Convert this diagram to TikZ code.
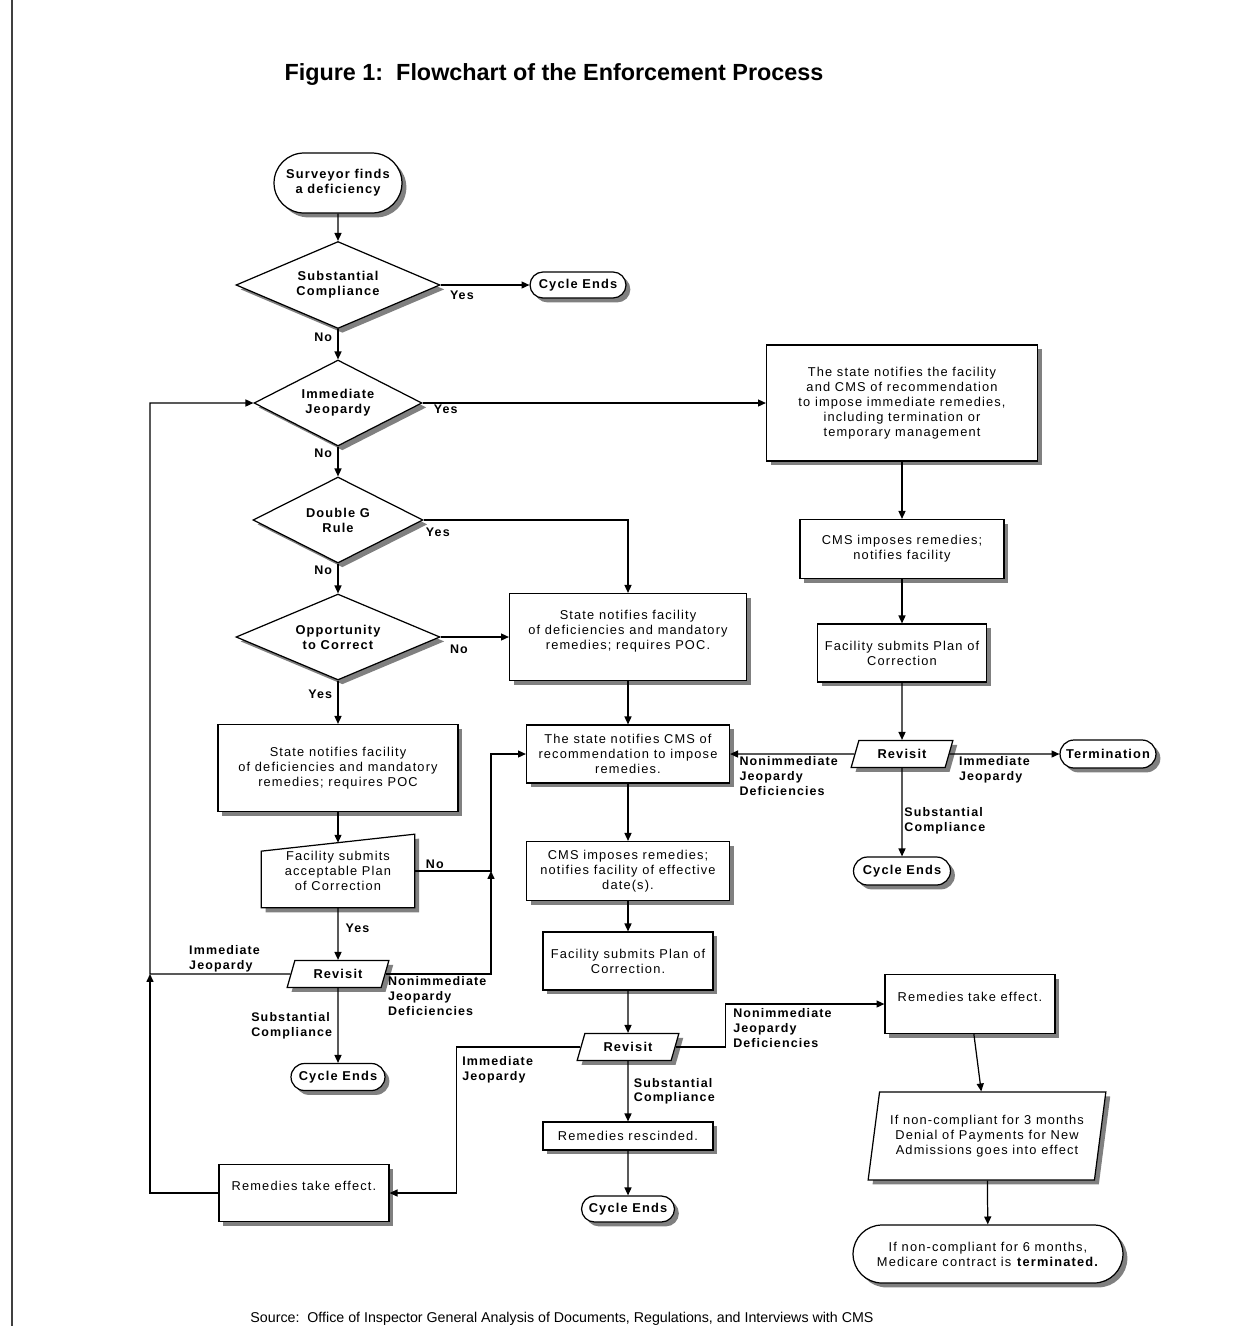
\documentclass[tikz,border=0pt]{standalone}
\usepackage{fontspec}
\setmainfont{Liberation Sans}
\newfontfamily\dfont[LetterSpace=9]{Liberation Sans}
\usetikzlibrary{shapes.geometric,shapes.misc,shadows,arrows.meta,calc,backgrounds}
\begin{document}
\begin{tikzpicture}[x=0.02cm,y=-0.02cm,
  dshadow/.style={drop shadow={shadow xshift=2.5pt,shadow yshift=-2.5pt,fill=black!50,opacity=1}},
  proc/.style={rectangle,draw,fill=white,line width=0.7pt,dshadow,align=center,inner sep=2pt,font=\dfont\fontsize{7.3}{8.5}\selectfont},
  term/.style={rounded rectangle,draw,fill=white,line width=0.7pt,dshadow,align=center,inner sep=2pt,font=\dfont\bfseries\fontsize{7.3}{8.5}\selectfont},
  dec/.style={diamond,aspect=2.3,draw,fill=white,line width=0.7pt,dshadow,align=center,inner sep=0pt,font=\dfont\bfseries\fontsize{7.3}{8.5}\selectfont},
  rev/.style={trapezium,trapezium left angle=70,trapezium right angle=110,trapezium stretches=true,draw,fill=white,line width=0.7pt,dshadow,inner sep=1pt,minimum width=2.04cm,minimum height=0.54cm,font=\dfont\bfseries\fontsize{7.3}{8.5}\selectfont},
  lbl/.style={inner sep=1pt,align=left,font=\dfont\bfseries\fontsize{7.1}{8.5}\selectfont},
  arr/.style={line width=0.7pt,-{Triangle[length=4.5pt,width=4pt]}},
  ln/.style={line width=0.7pt}]
\useasboundingbox (0,0) rectangle (1254,1326);
\draw[line width=1.6pt,black!75] (12,0) -- (12,1326);
\node[font=\bfseries\fontsize{13.3}{15}\selectfont] (title) at (554,75) {Figure 1:\ \ Flowchart of the Enforcement Process};
\node[font=\fontsize{8.1}{9}\selectfont] (source) at (562,1319) {Source:\ \ Office of Inspector General Analysis of Documents, Regulations, and Interviews with CMS};

\node[term,minimum width=2.7cm,minimum height=1.2cm] (start) at (338,183) {Surveyor finds\\a deficiency};
\node[dec,minimum width=4.08cm,minimum height=1.74cm] (sc) at (338,285) {Substantial\\Compliance};
\node[term,minimum width=2.06cm,minimum height=0.52cm] (ce1) at (578,285) {Cycle Ends};
\node[dec,minimum width=3.36cm,minimum height=1.72cm] (ij) at (338,403) {Immediate\\Jeopardy};
\node[dec,minimum width=3.4cm,minimum height=1.72cm] (dg) at (338,520) {Double G\\Rule};
\node[dec,minimum width=4.08cm,minimum height=1.72cm] (otc) at (338,637) {Opportunity\\to Correct};

\node[proc,minimum width=5.42cm,minimum height=2.32cm] (stij) at (902,403) {The state notifies the facility\\and CMS of recommendation\\to impose immediate remedies,\\including termination or\\temporary management};
\node[proc,minimum width=4.08cm,minimum height=1.18cm] (cmsr) at (902,549) {CMS imposes remedies;\\notifies facility};
\node[proc,minimum width=3.38cm,minimum height=1.16cm] (fspr) at (902,653) {Facility submits Plan of\\Correction};
\node[rev] (rvr) at (902,754) {Revisit};
\node[term,minimum width=2.06cm,minimum height=0.56cm] (term) at (1108,754) {Termination};
\node[term,minimum width=2.08cm,minimum height=0.56cm] (ce4) at (902,871) {Cycle Ends};

\node[proc,minimum width=4.74cm,minimum height=1.74cm] (snm) at (628,637) {State notifies facility\\of deficiencies and mandatory\\remedies; requires POC.\\ ~};
\node[proc,minimum width=4.06cm,minimum height=1.16cm] (rec) at (628,754) {The state notifies CMS of\\recommendation to impose\\remedies.};
\node[proc,minimum width=4.06cm,minimum height=1.18cm] (cmsm) at (628,871) {CMS imposes remedies;\\notifies facility of effective\\date(s).};
\node[proc,minimum width=3.4cm,minimum height=1.16cm] (fspm) at (628,961) {Facility submits Plan of\\Correction.};
\node[rev] (rvm) at (628,1047) {Revisit};
\node[proc,minimum width=3.4cm,minimum height=0.56cm] (rres) at (628,1136) {Remedies rescinded.};
\node[term,minimum width=2cm,minimum height=0.52cm] (ce3) at (628,1209) {Cycle Ends};

\node[proc,minimum width=3.4cm,minimum height=1.18cm] (rer) at (970,1004) {Remedies take effect.\\ ~};
\node[trapezium,trapezium left angle=77,trapezium right angle=103,trapezium stretches=true,draw,fill=white,line width=0.7pt,dshadow,align=center,inner sep=1pt,minimum width=4.76cm,minimum height=1.76cm,font=\dfont\fontsize{7.3}{8.5}\selectfont] (den) at (987,1136) {If non-compliant for 3 months\\Denial of Payments for New\\Admissions goes into effect};
\node[term,minimum width=5.54cm,minimum height=1.16cm,font=\dfont\fontsize{7.3}{8.5}\selectfont] (fin) at (988,1254) {If non-compliant for 6 months,\\Medicare contract is \textbf{terminated.}};

\node[proc,minimum width=4.8cm,minimum height=1.74cm] (snl) at (338,768) {State notifies facility\\of deficiencies and mandatory\\remedies; requires POC};
\node[align=center,minimum width=3.06cm,minimum height=1.46cm,font=\dfont\fontsize{7.3}{8.5}\selectfont] (fsa) at (338,871) {Facility submits\\acceptable Plan\\of Correction};
\begin{scope}[on background layer]
\draw[ln,fill=white,dshadow] ($(fsa.north west)+(0,17)$) -- (fsa.north east) -- (fsa.south east) -- (fsa.south west) -- cycle;
\end{scope}
\node[rev] (rvl) at (338,974) {Revisit};
\node[term,minimum width=2.02cm,minimum height=0.54cm] (ce2) at (338,1077) {Cycle Ends};
\node[proc,minimum width=3.4cm,minimum height=1.14cm] (rel) at (304,1193) {Remedies take effect.\\ ~};

\coordinate (fsatop) at ($(fsa.north)+(0,8.5)$);
\coordinate (jm) at (491,871);
\coordinate (jl) at (150,974);

\draw[arr] (start) -- (sc);
\draw[arr] (sc) -- node[lbl,pos=0,anchor=north west,xshift=4pt,yshift=-2pt] (y1) {Yes} (ce1);
\draw[arr] (sc) -- node[lbl,pos=0,anchor=north east,xshift=-2pt,yshift=-1pt] (n1) {No} (ij);
\draw[arr] (ij) -- node[lbl,pos=0,anchor=north west,xshift=5pt] (y2) {Yes} (stij);
\draw[arr] (ij) -- node[lbl,pos=0,anchor=north east,xshift=-2pt] (n2) {No} (dg);
\draw[arr] (dg.east) -| node[lbl,pos=0,anchor=north west,yshift=-3pt] (y3) {Yes} (snm.north);
\draw[arr] (dg) -- node[lbl,pos=0,anchor=north east,xshift=-2pt] (n3) {No} (otc);
\draw[arr] (otc) -- node[lbl,pos=0,anchor=north east,xshift=-2pt,yshift=-4pt] (y4) {Yes} (snl);
\draw[arr] (otc) -- node[lbl,pos=0,anchor=north west,xshift=4pt,yshift=-3pt] (n4) {No} (snm);

\draw[arr] (stij) -- (cmsr);
\draw[arr] (cmsr) -- (fspr);
\draw[arr] (fspr) -- (rvr);
\draw[arr] (rvr) -- node[lbl,pos=1,anchor=north west,xshift=4pt] (l1) {Nonimmediate\\Jeopardy\\Deficiencies} (rec);
\draw[arr] (rvr) -- node[lbl,pos=0,anchor=north west,xshift=4pt] (l2) {Immediate\\Jeopardy} (term);
\draw[arr] (rvr) -- node[lbl,pos=0.6,anchor=west] (l3) {Substantial\\Compliance} (ce4);

\draw[arr] (snm) -- (rec);
\draw[arr] (rec) -- (cmsm);
\draw[arr] (cmsm) -- (fspm);
\draw[arr] (fspm) -- (rvm);
\draw[arr] (rvm) -- node[lbl,pos=0.5,anchor=west,xshift=2pt] (l4) {Substantial\\Compliance} (rres);
\draw[arr] (rres) -- (ce3);
\draw[arr] (rvm.east) -- ++(50,0) |- node[lbl,pos=0.5,anchor=north west,xshift=3pt,yshift=-1pt] (l5) {Nonimmediate\\Jeopardy\\Deficiencies} (rer.west);
\draw[arr] (rvm.west) -- ++(-124,0) |- node[lbl,pos=0,anchor=north west,xshift=2pt,yshift=-4pt] (l6) {Immediate\\Jeopardy} (rel.east);
\draw[arr] (rer) -- (den);
\draw[arr] (den) -- (fin);

\draw[arr] (snl) -- (fsatop);
\draw[arr] (fsa) -- node[lbl,pos=0.4,anchor=west,xshift=3pt] (y5) {Yes} (rvl);
\draw[arr] (fsa.east) -- node[lbl,pos=0,anchor=south west,xshift=5pt] (n5) {No} (jm) |- (rec.west);
\draw[arr] (rvl.east) -| node[lbl,pos=0,anchor=north west] (l7) {Nonimmediate\\Jeopardy\\Deficiencies} (jm);
\draw[arr] (rvl) -- node[lbl,pos=0.5,anchor=east,xshift=-2pt] (l8) {Substantial\\Compliance} (ce2);
\draw[arr] (rel.west) -| (jl);
\draw[arr] (rvl.west) -- node[lbl,pos=0.2,anchor=south east] (l9) {Immediate\\Jeopardy} (jl) |- (ij.west);
\end{tikzpicture}
\end{document}
